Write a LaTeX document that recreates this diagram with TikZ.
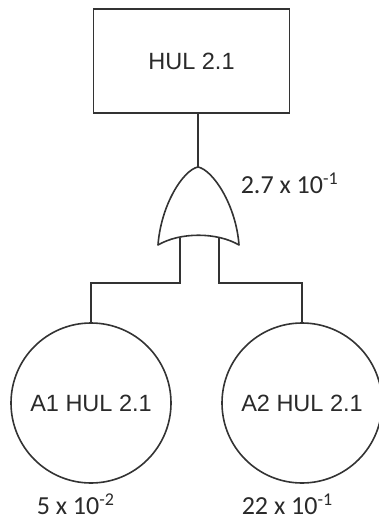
\documentclass[tikz,border=0pt]{standalone}
\usepackage{fontspec}
\setmainfont{Liberation Sans}
\newfontfamily\numfont{Carlito}
\definecolor{ink}{HTML}{333333}
\definecolor{txt}{HTML}{2A2A2A}
\begin{document}
\begin{tikzpicture}[x=1pt,y=-1pt,
  line width=1.6pt, draw=ink,
  namefont/.style={font=\fontsize{23.5}{27}\selectfont, text=txt},
  numlabel/.style={font=\numfont\fontsize{26}{30}\selectfont, text=txt, inner sep=0pt},
  evbox/.style={draw=ink, rectangle, minimum width=196pt, minimum height=104pt, inner sep=0pt, namefont},
  basic/.style={draw=ink, circle, minimum size=160pt, inner sep=0pt, namefont},
  wire/.style={draw=ink, line width=1.6pt}]
\useasboundingbox (0,0) rectangle (378,526);
\fill[white] (0,0) rectangle (378,526);
% top event
\node[evbox] (top) at (191.5,61) {HUL 2.1};
% OR gate
\coordinate (gtop) at (198,167);
\coordinate (gl) at (158,245);
\coordinate (gr) at (239,245);
\coordinate (gin1) at (180,238);
\coordinate (gin2) at (219,238);
\draw[wire, fill=white, line join=round] (gtop) .. controls (183,170) and (161,205) .. (gl)
  .. controls (180,232) and (217,232) .. (gr)
  .. controls (236,205) and (213,170) .. (gtop) -- cycle;
\node[numlabel, anchor=west] (glabel) at (240,183) {2.7 x 10\textsuperscript{\fontsize{18}{20}\selectfont -1}};
% basic events
\node[basic] (c1) at (91,403) {A1 HUL 2.1};
\node[basic] (c2) at (302,403) {A2 HUL 2.1};
\node[numlabel, anchor=west] (l1) at (36,504) {5 x 10\textsuperscript{\fontsize{18}{20}\selectfont -2}};
\node[numlabel, anchor=west] (l2) at (241,504) {22 x 10\textsuperscript{\fontsize{18}{20}\selectfont -1}};
% connectors
\draw[wire] (top.south -| gtop) -- (gtop);
\draw[wire] (gin1) -- ++(0,45) -| (c1.north);
\draw[wire] (gin2) -- ++(0,45) -| (c2.north);
\end{tikzpicture}
\end{document}
